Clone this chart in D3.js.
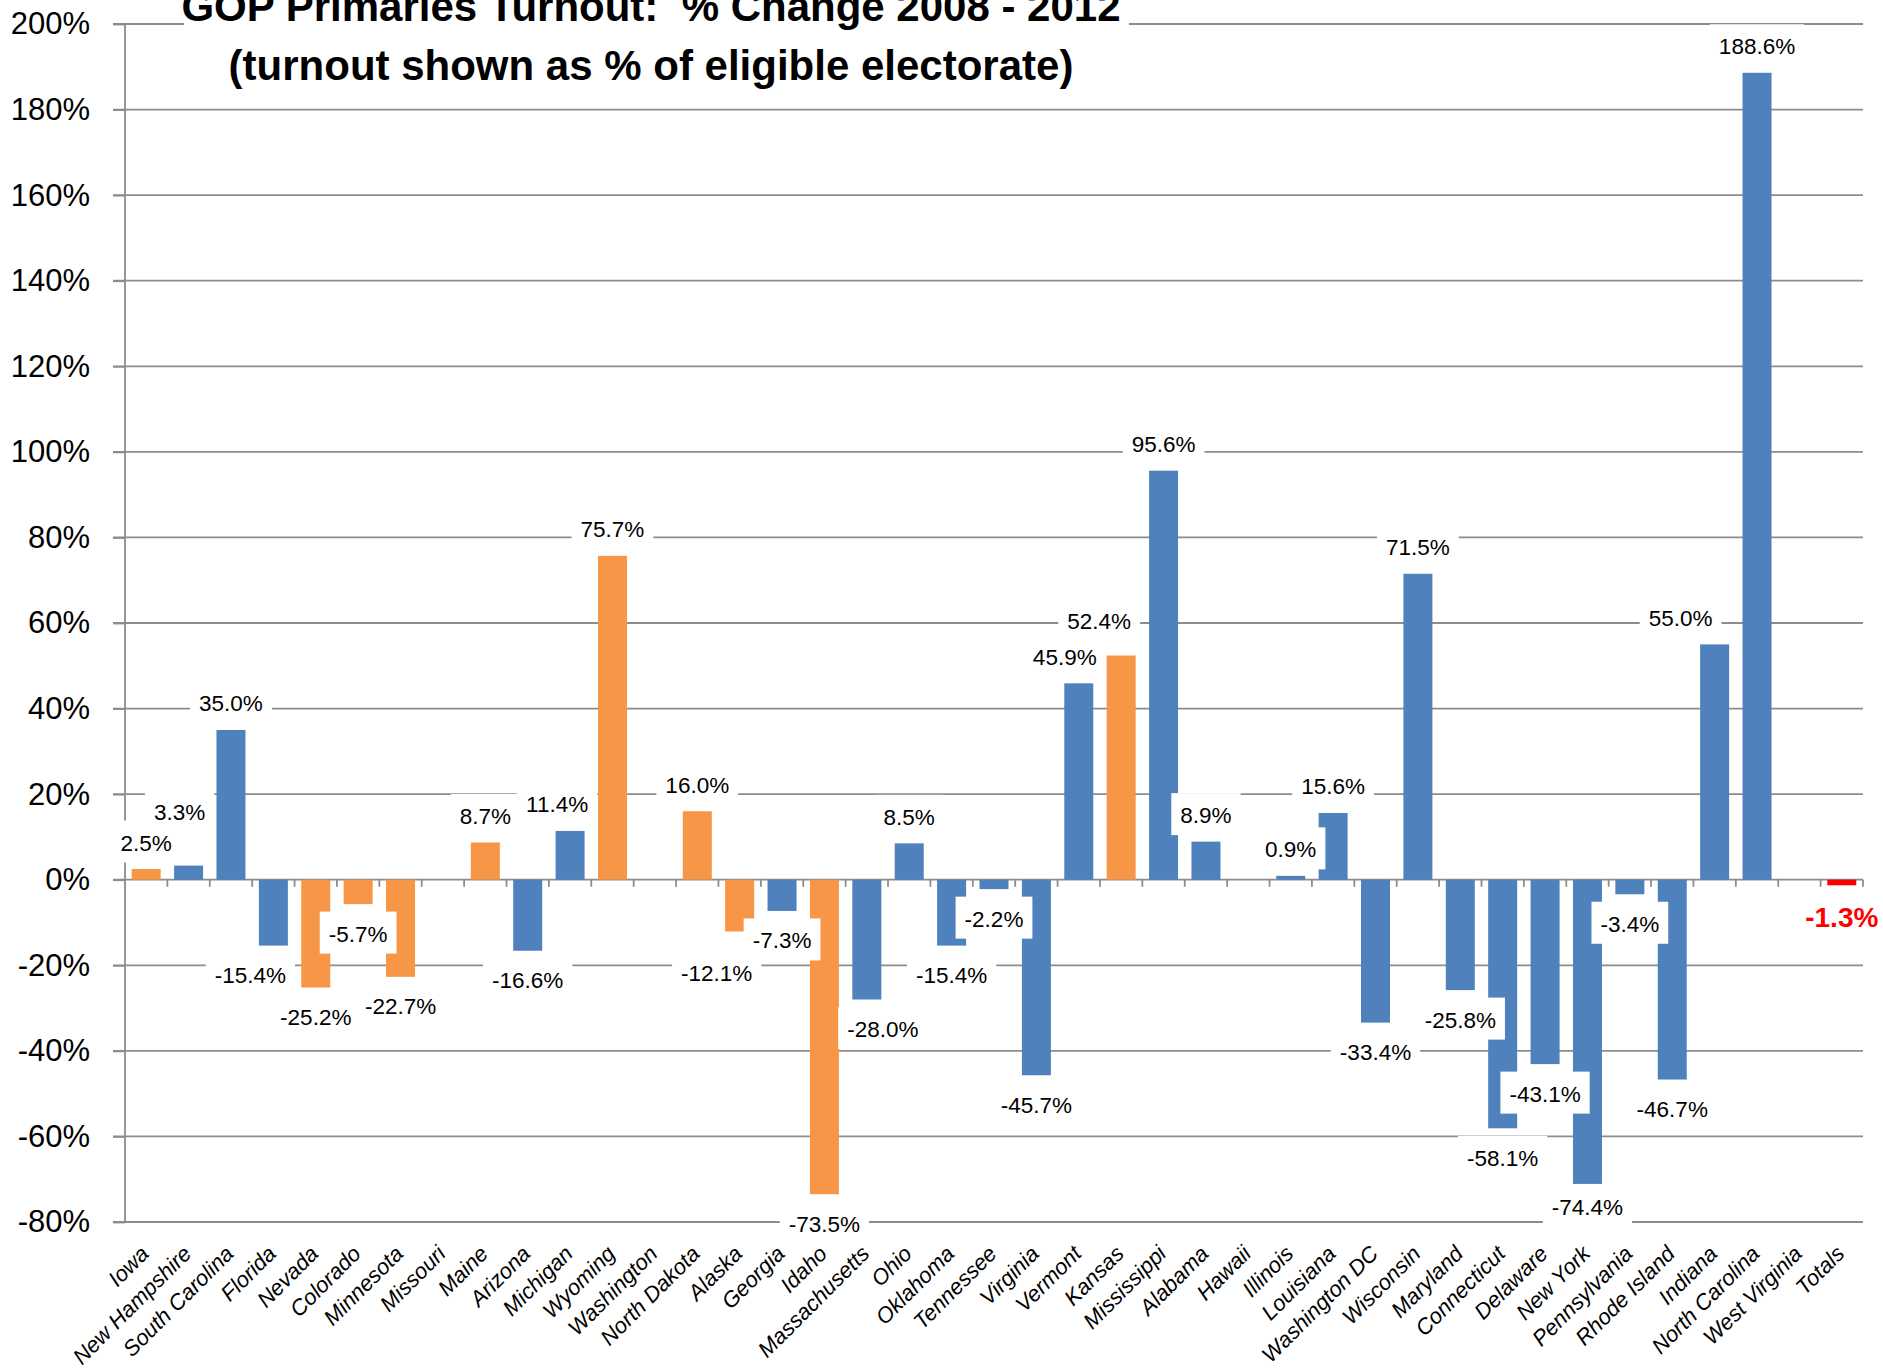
<!DOCTYPE html>
<html>
<head>
<meta charset="utf-8">
<script src="https://cdn.jsdelivr.net/npm/d3@7"></script>
<style>
  body { margin: 0; background: #fff; }
  svg { display: block; font-family: "Liberation Sans", Arial, sans-serif; }
</style>
</head>
<body>
<svg id="chart" width="1883" height="1369"></svg>
<script>
// contests in calendar order, plus the overall total
const states = ['Iowa', 'New Hampshire', 'South Carolina', 'Florida', 'Nevada', 'Colorado',
  'Minnesota', 'Missouri', 'Maine', 'Arizona', 'Michigan', 'Wyoming', 'Washington',
  'North Dakota', 'Alaska', 'Georgia', 'Idaho', 'Massachusetts', 'Ohio', 'Oklahoma',
  'Tennessee', 'Virginia', 'Vermont', 'Kansas', 'Mississippi', 'Alabama', 'Hawaii',
  'Illinois', 'Louisiana', 'Washington DC', 'Wisconsin', 'Maryland', 'Connecticut',
  'Delaware', 'New York', 'Pennsylvania', 'Rhode Island', 'Indiana', 'North Carolina',
  'West Virginia', 'Totals'];

// % change in turnout 2008 -> 2012 (null = no comparison shown)
const change = [2.5, 3.3, 35.0, -15.4, -25.2, -5.7,
  -22.7, null, 8.7, -16.6, 11.4, 75.7, null,
  16.0, -12.1, -7.3, -73.5, -28.0, 8.5, -15.4,
  -2.2, -45.7, 45.9, 52.4, 95.6, 8.9, null,
  0.9, 15.6, -33.4, 71.5, -25.8, -58.1,
  -43.1, -71.1, -3.4, -46.7, 55.0, 188.6,
  null, -1.3];

// caucus states are orange, primaries blue
const contest = ['caucus', 'primary', 'primary', 'primary', 'caucus', 'caucus',
  'caucus', 'primary', 'caucus', 'primary', 'primary', 'caucus', 'caucus',
  'caucus', 'caucus', 'primary', 'caucus', 'primary', 'primary', 'primary',
  'primary', 'primary', 'primary', 'caucus', 'primary', 'primary', 'caucus',
  'primary', 'primary', 'primary', 'primary', 'primary', 'primary',
  'primary', 'primary', 'primary', 'primary', 'primary', 'primary',
  'primary', 'total'];

// the printed label differs from the bar on one state
const printedLabel = { 'New York': '-74.4%' };

const yTicks = [-80, -60, -40, -20, 0, 20, 40, 60, 80, 100, 120, 140, 160, 180, 200];

const titleLines = ['GOP Primaries Turnout:  % Change 2008 - 2012',
  '(turnout shown as % of eligible electorate)'];

const colour = { caucus: '#F79646', primary: '#4F81BD', total: '#FF0000' };
const gridColour = '#8c8c8c';

// data labels that were dragged by hand in the original [dx, dy]
const labelNudge = {
  'New Hampshire': [-9, -27],
  'Michigan': [-13, 0],
  'Vermont': [-14, 0],
  'Kansas': [-22, -8],
  'Indiana': [-34, 0],
  'Florida': [-23, 0],
  'Alaska': [-23, 12],
  'Massachusetts': [16, 0],
  'New York': [0, -6],
  'Totals': [0, 2]
};

const svg = d3.select('#chart');

const plot = { left: 125, right: 1863, top: 24, bottom: 1222 };

const x = d3.scaleBand()
  .domain(states)
  .range([plot.left, plot.right])
  .paddingInner(0.316)
  .paddingOuter(0.158);

const y = d3.scaleLinear()
  .domain([d3.min(yTicks), d3.max(yTicks)])
  .range([plot.bottom, plot.top]);

// gridlines (they poke out 12px to the left as tick marks)
svg.append('g')
  .selectAll('line')
  .data(yTicks)
  .join('line')
  .attr('x1', plot.left - 12)
  .attr('x2', plot.right)
  .attr('y1', d => y(d))
  .attr('y2', d => y(d))
  .attr('stroke', gridColour)
  .attr('stroke-width', 1.8);

// y axis labels
const yAxis = svg.append('g')
  .attr('transform', `translate(${plot.left},0)`)
  .call(d3.axisLeft(y).tickValues(yTicks).tickFormat(d => d + '%').tickSize(12).tickPadding(23));
yAxis.select('.domain').remove();
yAxis.selectAll('.tick line').attr('stroke', gridColour).attr('stroke-width', 1.8);
yAxis.selectAll('.tick text')
  .attr('font-family', '"Liberation Sans", Arial, sans-serif')
  .attr('font-size', 31)
  .attr('fill', '#000');

svg.append('line')
  .attr('x1', plot.left).attr('x2', plot.left)
  .attr('y1', plot.top).attr('y2', plot.bottom)
  .attr('stroke', gridColour).attr('stroke-width', 1.8);

// category boundary ticks hanging off the zero line
svg.append('g')
  .selectAll('line')
  .data(d3.range(1, states.length + 1))
  .join('line')
  .attr('x1', k => plot.left + k * x.step())
  .attr('x2', k => plot.left + k * x.step())
  .attr('y1', y(0))
  .attr('y2', y(0) + 7)
  .attr('stroke', gridColour)
  .attr('stroke-width', 1.8);

const rows = states
  .map((s, i) => ({ state: s, value: change[i], type: contest[i] }))
  .filter(d => d.value !== null);

svg.append('g')
  .selectAll('rect')
  .data(rows)
  .join('rect')
  .attr('x', d => x(d.state))
  .attr('width', x.bandwidth())
  .attr('y', d => y(Math.max(0, d.value)))
  .attr('height', d => Math.abs(y(d.value) - y(0)))
  .attr('fill', d => colour[d.type]);

// data labels with white boxes, like Excel's filled labels
const label = svg.append('g')
  .selectAll('g')
  .data(rows)
  .join('g')
  .attr('transform', d => {
    const n = labelNudge[d.state] || [0, 0];
    const cx = x(d.state) + x.bandwidth() / 2 + n[0];
    const cy = y(d.value) + (d.value >= 0 ? -26.5 : 29.5) + n[1];
    return `translate(${cx},${cy})`;
  });

label.append('rect').attr('fill', '#fff');

label.append('text')
  .text(d => printedLabel[d.state] || d.value.toFixed(1) + '%')
  .attr('text-anchor', 'middle')
  .attr('y', d => d.type === 'total' ? 10 : 8)
  .attr('font-size', d => d.type === 'total' ? 28 : 22.5)
  .attr('font-weight', d => d.type === 'total' ? 'bold' : 'normal')
  .attr('fill', d => d.type === 'total' ? '#FF0000' : '#000');

label.each(function() {
  const g = d3.select(this);
  const w = g.select('text').node().getComputedTextLength() + 18;
  g.select('rect')
    .attr('x', -w / 2)
    .attr('width', w)
    .attr('y', -22)
    .attr('height', 42);
});

// category labels
svg.append('g')
  .selectAll('text')
  .data(states)
  .join('text')
  .attr('transform', d => `translate(${x(d) + x.bandwidth() / 2 + 4},${plot.bottom + 33}) rotate(-45)`)
  .attr('text-anchor', 'end')
  .attr('font-style', 'italic')
  .attr('font-size', 22)
  .attr('fill', '#000')
  .text(d => d);

// title sits on a white box over the top gridline
svg.append('rect')
  .attr('x', 184).attr('y', 0)
  .attr('width', 945).attr('height', 96)
  .attr('fill', '#fff');

svg.append('g')
  .selectAll('text')
  .data(titleLines)
  .join('text')
  .attr('x', 651)
  .attr('y', (d, i) => 21 + i * 59)
  .attr('text-anchor', 'middle')
  .attr('font-weight', 'bold')
  .attr('font-size', 42)
  .attr('fill', '#000')
  .style('white-space', 'pre')
  .text(d => d);
</script>
</body>
</html>
